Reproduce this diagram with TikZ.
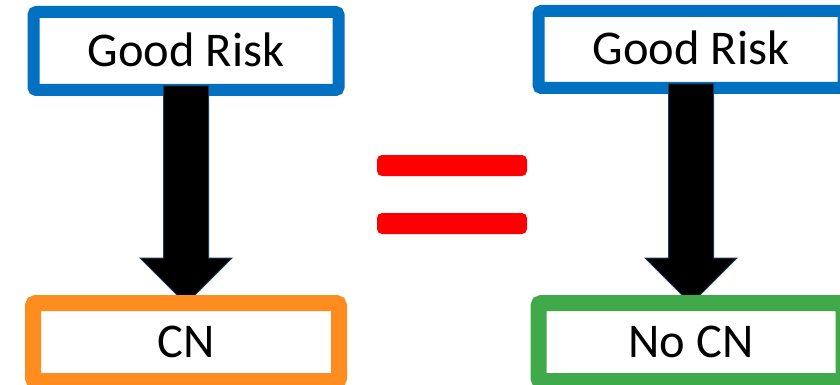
\documentclass[tikz,border=0pt]{standalone}
\usepackage{fontspec}
\setmainfont{Carlito}
\usetikzlibrary{calc}
\pgfdeclarelayer{front}
\pgfsetlayers{main,front}
\definecolor{boxblue}{HTML}{0070C0}
\definecolor{boxorange}{HTML}{FF8C1E}
\definecolor{boxgreen}{HTML}{40A94A}
\definecolor{arrowedge}{HTML}{1F3A5A}
\tikzset{
  rbox/.style={draw, fill=white, rounded corners=3pt, inner sep=0pt,
    font=\fontsize{48.5}{52}\selectfont, text height=30.6pt, text depth=0pt},
  topbox/.style={rbox, draw=boxblue, line width=12pt},
  botbox/.style={rbox, line width=16pt},
  bigarrow/.style={fill=black, draw=arrowedge, line width=1pt, line join=miter},
  eqbar/.style={fill=red, rounded corners=5pt, minimum width=150pt, minimum height=21pt, inner sep=0pt}
}
\begin{document}
\begin{tikzpicture}[x=1pt, y=-1pt]
\useasboundingbox (0,0) rectangle (840,385);
\clip (0,0) rectangle (840,385);
% top boxes
\node[topbox, minimum width=305pt, minimum height=78pt] (gr1) at (186,51) {Good Risk};
\node[topbox, minimum width=305pt, minimum height=77pt] (gr2) at (691,49.5) {Good Risk};
% equals sign
\node[eqbar] (eq1) at (452,165.5) {};
\node[eqbar] (eq2) at (452,223.5) {};
% bottom boxes, on the front layer so they cover the arrow tips
\begin{pgfonlayer}{front}
\node[botbox, draw=boxorange, minimum width=306pt, minimum height=78pt] (cn1) at (186,342) {CN};
\node[botbox, draw=boxgreen, minimum width=305pt, minimum height=78pt] (cn2) at (691,342) {No CN};
\end{pgfonlayer}
% block arrows from top box to bottom box
\foreach \a/\b in {gr1/cn1, gr2/cn2}{
  \draw[bigarrow]
    ($(\a.south)+(-22.5,-10)$) -- ($(\a.south)+(22.5,-10)$)
    -- ($(\b.north)+(22.5,-37)$) -- ($(\b.north)+(46,-37)$)
    -- ($(\b.north)+(0,9)$)
    -- ($(\b.north)+(-46,-37)$) -- ($(\b.north)+(-22.5,-37)$) -- cycle;
}
\end{tikzpicture}
\end{document}
